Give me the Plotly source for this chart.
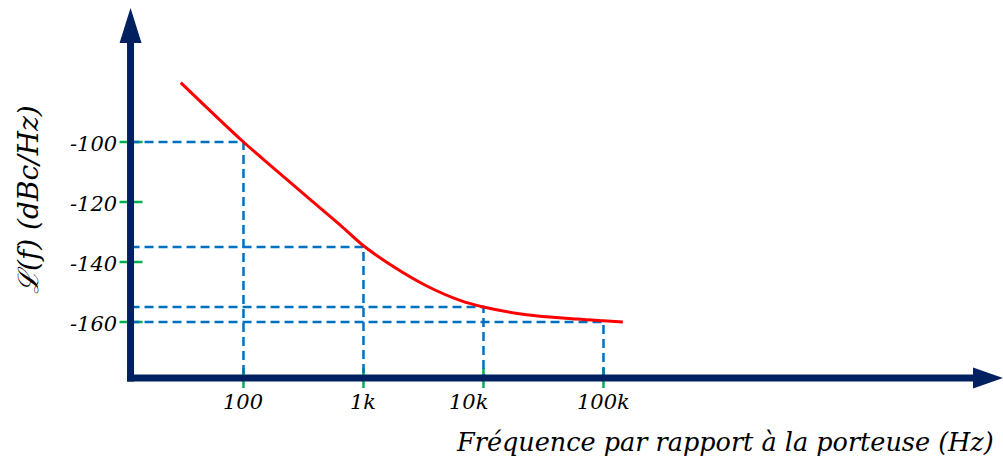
import numpy as np
import plotly.graph_objects as go

# Phase-noise profile L(f) against the offset from the carrier
offset_hz = [30, 100, 177, 337, 637, 1000, 1770, 3370, 6370, 10000, 22900, 59800, 100000, 145000]
noise_dbc = [-80.2, -100, -108.6, -118.2, -127.6, -134.6, -141.5, -148.0, -152.8, -155.0,
             -157.6, -159.0, -159.6, -160.0]

# Read-off points with dashed guides down to the axes
marker_hz = [100, 1000, 10000, 100000]
marker_dbc = [-100, -135, -155, -160]

x_tick_vals = [100, 1000, 10000, 100000]
x_tick_text = ["100", "1k", "10k", "100k"]
y_tick_vals = [-100, -120, -140, -160]
y_tick_text = ["-100", "-120", "-140", "-160"]

W, H = 1003, 464
NAVY = "#002060"
GUIDE = "#0070C0"
TICK = "#00B050"
FONT = "DejaVu Serif"

# Axis ranges cover the whole canvas: 120 px per decade, 3 px per dB
X_RANGE = [-0.029, -0.029 + W / 120]
Y_RANGE = [-52.667 - H / 3, -52.667]

# Where the drawn axes cross
AXIS_ORIGIN_HZ = 11.45
AXIS_FLOOR_DB = -178.67


def xp(f):
    return (np.log10(f) - X_RANGE[0]) / (X_RANGE[1] - X_RANGE[0])


def yp(v):
    return (v - Y_RANGE[0]) / (Y_RANGE[1] - Y_RANGE[0])


dlog_per_px = (X_RANGE[1] - X_RANGE[0]) / W
ddb_per_px = (Y_RANGE[1] - Y_RANGE[0]) / H

fig = go.Figure()

# Green tick marks crossing both axes
ytx, yty = [], []
for v in y_tick_vals:
    ytx += [AXIS_ORIGIN_HZ * 10 ** (-11 * dlog_per_px), AXIS_ORIGIN_HZ * 10 ** (12 * dlog_per_px), None]
    yty += [v, v, None]
xtx, xty = [], []
for f in x_tick_vals:
    xtx += [f, f, None]
    xty += [AXIS_FLOOR_DB + 10 * ddb_per_px, AXIS_FLOOR_DB - 10 * ddb_per_px, None]
fig.add_trace(go.Scatter(x=ytx + xtx, y=yty + xty, mode="lines",
                         line=dict(color=TICK, width=2.5), hoverinfo="skip"))

# Dashed guides from each read-off point to both axes
gx, gy = [], []
for f, v in zip(marker_hz, marker_dbc):
    gx += [AXIS_ORIGIN_HZ, f, f, None]
    gy += [v, v, AXIS_FLOOR_DB, None]
fig.add_trace(go.Scatter(x=gx, y=gy, mode="lines",
                         line=dict(color=GUIDE, width=2.5, dash="9px,5px"), hoverinfo="skip"))

# Phase-noise curve
fig.add_trace(go.Scatter(x=offset_hz, y=noise_dbc, mode="lines",
                         line=dict(color="#FF0000", width=3, shape="spline", smoothing=1.0)))

# Axes drawn as thick arrows
ox, oy = xp(AXIS_ORIGIN_HZ), yp(AXIS_FLOOR_DB)
half_w = 3.5
shapes = [
    dict(type="line", xref="paper", yref="paper", x0=ox, x1=ox,
         y0=oy - half_w / H, y1=1 - 43 / H, line=dict(color=NAVY, width=7)),
    dict(type="path", xref="paper", yref="paper",
         path=f"M {ox - 11 / W},{1 - 43 / H} L {ox + 11 / W},{1 - 43 / H} L {ox},{1 - 8 / H} Z",
         fillcolor=NAVY, line=dict(width=0)),
    dict(type="line", xref="paper", yref="paper", x0=ox - half_w / W, x1=1 - 30 / W,
         y0=oy, y1=oy, line=dict(color=NAVY, width=7)),
    dict(type="path", xref="paper", yref="paper",
         path=f"M {1 - 30 / W},{oy + 10.5 / H} L {1 - 30 / W},{oy - 10.5 / H} L {1.0},{oy} Z",
         fillcolor=NAVY, line=dict(width=0)),
]
for s in shapes:
    s["layer"] = "above"

annotations = []
for v, t in zip(y_tick_vals, y_tick_text):
    annotations.append(dict(xref="paper", yref="y", x=ox - 12 / W, y=v, yshift=-2,
                            text=f"<i>{t}</i>", showarrow=False, xanchor="right", yanchor="middle",
                            font=dict(family=FONT, size=21, color="black")))
x_label_shift = {"10k": -15}
for f, t in zip(x_tick_vals, x_tick_text):
    annotations.append(dict(xref="x", yref="paper", x=np.log10(f), y=oy - 24 / H,
                            xshift=x_label_shift.get(t, 0),
                            text=f"<i>{t}</i>", showarrow=False, xanchor="center", yanchor="middle",
                            font=dict(family=FONT, size=21, color="black")))
annotations.append(dict(xref="paper", yref="paper", x=996 / W, y=1 - 442 / H,
                        text="<i>Fréquence par rapport à la porteuse (Hz)</i>", showarrow=False,
                        xanchor="right", yanchor="middle",
                        font=dict(family=FONT, size=25.5, color="black")))
annotations.append(dict(xref="paper", yref="paper", x=28 / W, y=1 - 200 / H, textangle=-90,
                        text="<i>ℒ(f) (dBc/Hz)</i>", showarrow=False,
                        xanchor="center", yanchor="middle",
                        font=dict(family=FONT, size=28, color="black")))

fig.update_layout(
    width=W, height=H,
    margin=dict(l=0, r=0, t=0, b=0),
    paper_bgcolor="white", plot_bgcolor="white",
    showlegend=False,
    xaxis=dict(type="log", range=X_RANGE, visible=False, fixedrange=True),
    yaxis=dict(range=Y_RANGE, visible=False, fixedrange=True),
    shapes=shapes,
    annotations=annotations,
)

fig.write_html("out.html")
